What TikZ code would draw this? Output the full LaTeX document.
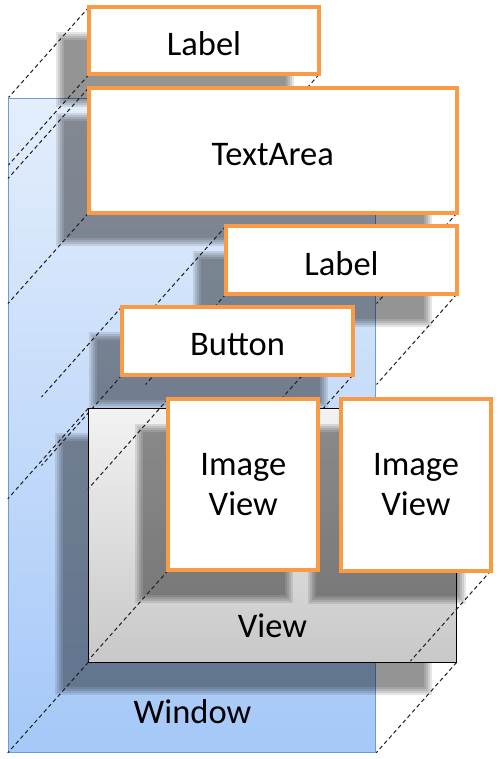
\documentclass[tikz,border=0pt]{standalone}
\usepackage{fontspec}
\setmainfont{Carlito}
\definecolor{orangeB}{RGB}{249,155,70}
\definecolor{winTop}{RGB}{228,238,252}
\definecolor{winBot}{RGB}{165,200,248}
\definecolor{winLine}{RGB}{110,155,215}
\definecolor{viewTop}{RGB}{242,242,242}
\definecolor{viewBot}{RGB}{200,200,200}
\definecolor{projLine}{RGB}{30,30,30}
\pgfdeclarelayer{Lwin}
\pgfdeclarelayer{Lshadow}
\pgfdeclarelayer{Lproj}
\pgfdeclarelayer{Lview}
\pgfsetlayers{Lwin,Lshadow,Lproj,Lview,main}
\tikzset{
  uibox/.style={draw=orangeB, line width=4pt, fill=white, inner sep=0pt, outer sep=0pt,
    font=\fontsize{34.5}{40}\selectfont, align=center},
  oneline/.style={text height=30pt, text depth=0pt},
  proj/.style={draw=projLine, line width=1pt, dash pattern=on 4pt off 3pt},
  shfill/.style={fill=black, opacity=0.1},
  captext/.style={inner sep=0pt, outer sep=0pt, font=\fontsize{34.5}{40}\selectfont, anchor=base},
}
% soft drop shadow of a box given by two corner anchors
\newcommand\softshadow[2]{%
  \foreach \sa/\sb in {-33/-25,-31/-27,-29/-29,-27/-31,-25/-33}{%
    \fill[shfill] ([xshift=\sa pt,yshift=\sb pt]#1) rectangle ([xshift=\sb pt,yshift=\sa pt]#2);}}
% projection line from a corner one depth plane back
\newcommand\projline[3]{%
  \path (#1.#2) ++(-80.5,90.5) coordinate (#3);
  \draw[proj] (#1.#2) -- (#3);}
\begin{document}
\begin{tikzpicture}[x=1pt,y=-1pt]
\useasboundingbox (0,0) rectangle (500,759);

% ---- front boxes (main layer) ----
\node[uibox, oneline, minimum width=230pt, minimum height=67.5pt] (lab1) at (204,40.75) {Label};
\node[uibox, oneline, minimum width=368.5pt, minimum height=125pt] (text) at (272.75,150.5) {TextArea};
\node[uibox, oneline, minimum width=231pt, minimum height=68pt] (lab2) at (341.5,260) {Label};
\node[uibox, oneline, minimum width=231pt, minimum height=68.5pt] (btn) at (237.5,340.75) {Button};
\node[uibox, minimum width=150pt, minimum height=171.5pt] (iv1) at (243.3,484.5) {Image\\View};
\node[uibox, minimum width=150pt, minimum height=172pt] (iv2) at (416,484.5) {Image\\View};

% ---- window ----
\begin{pgfonlayer}{Lwin}
  \fill[white] (0,0) rectangle (500,759);
  \node[draw=winLine, line width=1pt, top color=winTop, bottom color=winBot,
        minimum width=367.7pt, minimum height=654pt, inner sep=0pt, outer sep=0pt]
        (win) at (191.85,425.3) {};
  \node[captext] (wintxt) at (192.5,723) {Window};
\end{pgfonlayer}

% ---- view (depth 1, beneath the image views) ----
\begin{pgfonlayer}{Lview}
  \node[draw=black, line width=0.8pt, top color=viewTop, bottom color=viewBot,
        minimum width=368.4pt, minimum height=254pt, inner sep=0pt, outer sep=0pt]
        (view) at (272.5,535.3) {};
  \node[captext] (viewtxt) at (272.5,637) {View};
  \softshadow{iv1.north west}{iv1.south east}
  \softshadow{iv2.north west}{iv2.south east}
  \projline{iv1}{north west}{iv1nwb}
  \projline{iv1}{south west}{iv1swb}
  \projline{iv2}{south east}{iv2seb}
\end{pgfonlayer}

% ---- shadows of depth-1 elements ----
\begin{pgfonlayer}{Lshadow}
  \softshadow{lab1.north west}{lab1.south east}
  \softshadow{text.north west}{text.south east}
  \softshadow{lab2.north west}{lab2.south east}
  \softshadow{btn.north west}{btn.south east}
  \softshadow{view.north west}{view.south east}
\end{pgfonlayer}

% ---- projection lines from depth 1 to the window plane ----
\begin{pgfonlayer}{Lproj}
  \projline{lab1}{north west}{lab1nwb}
  \projline{lab1}{south west}{lab1swb}
  \projline{lab1}{south east}{lab1seb}
  \projline{text}{north west}{textnwb}
  \projline{text}{south west}{textswb}
  \projline{text}{south east}{textseb}
  \projline{lab2}{north west}{lab2nwb}
  \projline{lab2}{south west}{lab2swb}
  \projline{lab2}{south east}{lab2seb}
  \projline{btn}{north west}{btnnwb}
  \projline{btn}{south west}{btnswb}
  \projline{btn}{south east}{btnseb}
  \projline{view}{north west}{viewnwb}
  \projline{view}{south west}{viewswb}
  \projline{view}{south east}{viewseb}
  \coordinate (hidA) at (316,360);
  \coordinate (hidB) at (275,406);
  \draw[proj] (hidA) -- (hidB);
\end{pgfonlayer}
\end{tikzpicture}
\end{document}
